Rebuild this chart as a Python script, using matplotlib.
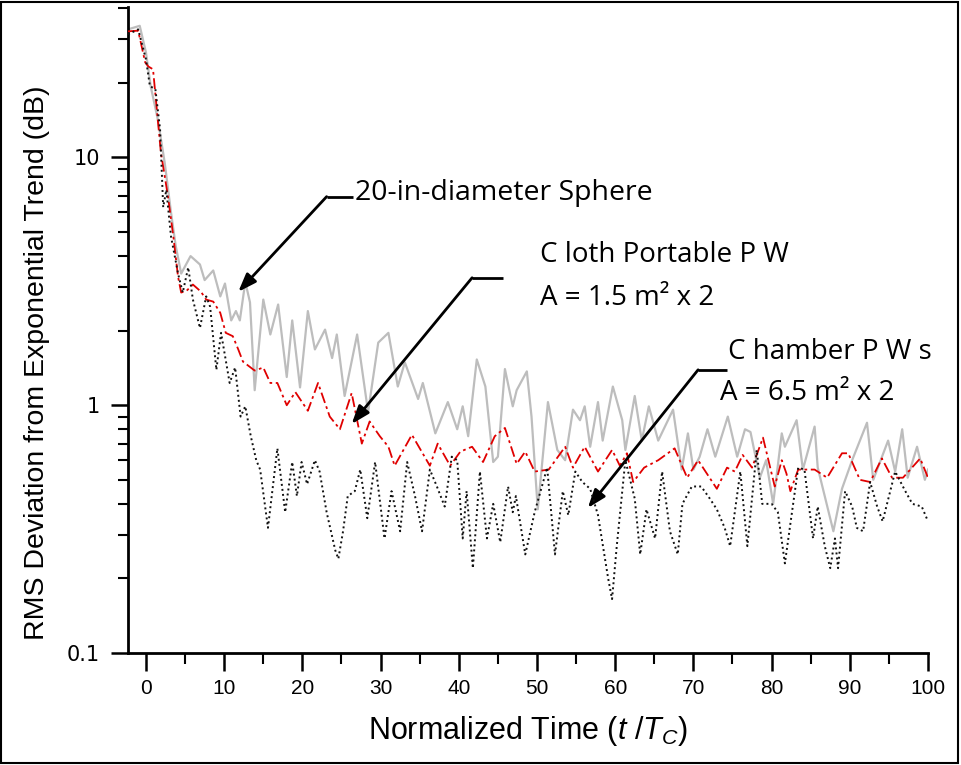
import matplotlib
matplotlib.use("Agg")
import matplotlib.pyplot as plt
from matplotlib import font_manager
from matplotlib.patches import Rectangle
from matplotlib.ticker import LogLocator, FixedLocator, NullFormatter, FixedFormatter, MultipleLocator

names = {f.name for f in font_manager.fontManager.ttflist}
NARROW = "Liberation Sans Narrow" if "Liberation Sans Narrow" in names else "Liberation Sans"
ANNOT = "Open Sans" if "Open Sans" in names else "DejaVu Sans"

# ---------------- data ----------------
sphere_t = [-2.3, -0.8, 0, 0.6, 1.5, 2.4, 3.2, 3.8, 4.5, 5.7, 6.9, 7.5, 8.6, 9.5, 10.1, 10.9, 11.5, 12.0,
            12.7, 13.3, 13.9, 15.0, 15.9, 16.9, 18.0, 18.7, 19.7, 20.7, 21.6, 22.9, 23.8, 24.4, 25.4, 27.0,
            28.4, 29.7, 31.0, 32.2, 33.1, 34.8, 35.4, 37.0, 38.6, 39.8, 40.5, 41.2, 42.3, 43.4, 44.4, 45.0,
            45.9, 46.9, 47.4, 48.7, 49.3, 50.1, 51.4, 52.6, 53.6, 54.6, 55.5, 56.1, 56.8, 57.8, 58.4, 59.7,
            60.9, 61.3, 62.5, 63.4, 64.3, 65.5, 67.4, 68.5, 69.3, 70.0, 70.8, 71.8, 72.8, 74.4, 75.6, 76.6,
            77.3, 78.5, 79.3, 80.2, 81.3, 81.7, 83.2, 84.0, 85.5, 85.9, 87.9, 89.0, 90.3, 92.2, 93.0, 94.9,
            95.8, 96.7, 97.4, 98.6, 99.6, 100]
sphere_v = [32.9, 34, 26.5, 19.4, 14.3, 9.5, 6.0, 4.4, 3.4, 4.0, 3.7, 3.2, 3.5, 2.75, 3.1, 2.2, 2.4, 2.2,
            3.15, 2.6, 1.15, 2.67, 1.93, 2.55, 1.3, 2.2, 1.18, 2.4, 1.68, 2.02, 1.55, 1.93, 1.09, 1.93,
            0.94, 1.79, 1.96, 1.19, 1.49, 1.06, 1.23, 0.77, 1.03, 0.8, 0.99, 0.75, 1.53, 1.19, 0.59, 0.62,
            1.4, 0.99, 1.15, 1.37, 0.9, 0.38, 1.03, 0.66, 0.6, 0.96, 0.87, 0.99, 0.68, 1.03, 0.72, 1.19,
            0.87, 0.66, 1.09, 0.72, 0.99, 0.72, 0.96, 0.55, 0.77, 0.55, 0.62, 0.8, 0.62, 0.9, 0.62, 0.8,
            0.78, 0.51, 0.6, 0.4, 0.77, 0.68, 0.87, 0.55, 0.82, 0.56, 0.31, 0.46, 0.6, 0.85, 0.5, 0.72,
            0.54, 0.8, 0.51, 0.68, 0.5, 0.55]

cloth_t = [-2.3, -1.0, -0.1, 0.3, 0.9, 1.3, 1.9, 2.8, 3.5, 4.1, 4.5, 5.2, 6.0, 7.0, 7.7, 8.6, 9.5, 10.2,
           11.1, 11.8, 12.4, 13.9, 15.0, 15.9, 16.8, 18.0, 19.1, 20.7, 22.0, 23.5, 24.8, 26.3, 27.6, 28.6,
           29.9, 31.0, 31.8, 34.0, 36.3, 37.3, 38.9, 40.2, 41.7, 43.1, 44.6, 45.9, 47.4, 48.5, 49.7, 51.5,
           53.6, 54.6, 56.1, 57.8, 59.6, 60.6, 61.5, 62.3, 63.7, 65.5, 67.6, 69.2, 70.6, 73.0, 74.3, 75.3,
           76.3, 77.5, 78.9, 80.4, 81.3, 81.9, 82.4, 83.4, 85.5, 87.1, 89.0, 89.8, 91.3, 92.6, 94.1, 95.4,
           96.8, 99.0, 100]
cloth_v = [32.3, 32.5, 24.2, 23.3, 22.7, 16.7, 10.5, 7.0, 4.8, 3.3, 2.85, 2.9, 3.07, 2.88, 2.67, 2.62, 2.36, 1.96,
           1.9, 1.68, 1.5, 1.38, 1.42, 1.23, 1.23, 1.0, 1.13, 0.95, 1.23, 0.9, 0.8, 1.12, 0.7, 0.86,
           0.75, 0.68, 0.57, 0.76, 0.57, 0.7, 0.57, 0.65, 0.68, 0.59, 0.75, 0.81, 0.58, 0.65, 0.54, 0.55,
           0.68, 0.56, 0.68, 0.54, 0.66, 0.57, 0.64, 0.49, 0.56, 0.6, 0.67, 0.51, 0.6, 0.46, 0.56, 0.54,
           0.63, 0.56, 0.74, 0.47, 0.6, 0.53, 0.45, 0.55, 0.55, 0.51, 0.64, 0.64, 0.5, 0.49, 0.61, 0.51,
           0.51, 0.61, 0.51]

chamber_t = [-2.3, -1.0, 0.0, 0.5, 1.2, 1.8, 2.2, 2.6, 3.2, 4.1, 4.7, 5.4, 6.0, 6.9, 7.7, 8.2, 9.0, 9.6,
             10.7, 11.4, 12.1, 12.7, 13.4, 14.1, 14.6, 15.6, 16.8, 17.8, 18.7, 19.3, 19.9, 20.6, 21.6, 22.2,
             23.1, 24.2, 24.6, 25.2, 25.8, 26.7, 27.4, 28.3, 29.3, 30.5, 31.4, 32.5, 33.4, 34.4, 35.3, 36.3,
             37.2, 38.2, 39.1, 39.8, 40.5, 41.0, 41.8, 42.7, 43.6, 44.4, 45.3, 46.3, 46.9, 47.3, 48.5, 49.7,
             51.3, 52.3, 53.3, 54.0, 54.9, 55.8, 56.8, 57.8, 59.1, 59.6, 60.2, 61.3, 62.5, 63.2, 64.0, 65.1,
             66.0, 67.0, 68.0, 68.6, 69.8, 71.0, 72.1, 73.0, 74.0, 74.7, 76.0, 76.9, 78.1, 78.8, 80.0, 80.8,
             81.7, 82.5, 83.4, 84.2, 85.3, 85.9, 86.8, 87.5, 88.1, 88.5, 89.4, 90.3, 90.9, 91.7, 92.6, 93.5,
             94.2, 95.8, 97.1, 98.0, 99.2, 100]
chamber_v = [31.4, 32.9, 24.9, 19.4, 18.9, 13.0, 6.3, 7.4, 4.8, 3.4, 2.85, 3.6, 2.67, 2.05, 2.75, 2.5, 1.39, 1.96,
             1.23, 1.42, 0.9, 0.99, 0.75, 0.6, 0.55, 0.32, 0.67, 0.37, 0.59, 0.43, 0.59, 0.48, 0.6, 0.54,
             0.37, 0.26, 0.24, 0.31, 0.43, 0.45, 0.55, 0.35, 0.59, 0.29, 0.45, 0.31, 0.59, 0.43, 0.31, 0.55,
             0.47, 0.39, 0.62, 0.6, 0.29, 0.45, 0.22, 0.54, 0.29, 0.4, 0.28, 0.47, 0.37, 0.43, 0.25, 0.37,
             0.56, 0.25, 0.45, 0.36, 0.54, 0.49, 0.46, 0.36, 0.2, 0.165, 0.27, 0.6, 0.42, 0.25, 0.38, 0.29,
             0.54, 0.31, 0.25, 0.4, 0.47, 0.47, 0.42, 0.38, 0.32, 0.27, 0.54, 0.27, 0.66, 0.4, 0.4, 0.37,
             0.23, 0.35, 0.56, 0.55, 0.29, 0.39, 0.27, 0.22, 0.29, 0.22, 0.45, 0.39, 0.32, 0.31, 0.49, 0.39,
             0.34, 0.54, 0.45, 0.4, 0.39, 0.34]

x_ticks = [0, 10, 20, 30, 40, 50, 60, 70, 80, 90, 100]
y_ticks = [0.1, 1, 10]
y_tick_labels = ["0.1", "1", "10"]

# ---------------- figure ----------------
plt.rcParams["mathtext.fontset"] = "custom"
plt.rcParams["mathtext.rm"] = NARROW
plt.rcParams["mathtext.it"] = NARROW + ":italic"

fig = plt.figure(figsize=(9.61, 7.65), dpi=100)
ax = fig.add_axes([128 / 961, 112 / 765, 800 / 961, 646 / 765])

ax.plot(sphere_t, sphere_v, color="#bdbdbd", lw=1.6, ls="-", zorder=2)
ax.plot(cloth_t, cloth_v, color="#e00000", lw=1.3, ls=(0, (6, 2, 1.5, 2)), zorder=3)
ax.plot(chamber_t, chamber_v, color="#111111", lw=1.4, ls=(0, (1, 1.6)), zorder=4)

ax.set_yscale("log")
ax.set_ylim(0.1, 40.5)
ax.set_xlim(-2.3, 100)

for s in ["top", "right"]:
    ax.spines[s].set_visible(False)
for s in ["left", "bottom"]:
    ax.spines[s].set_linewidth(2.0)

ax.xaxis.set_major_locator(FixedLocator(x_ticks))
ax.xaxis.set_minor_locator(MultipleLocator(5))
ax.yaxis.set_major_locator(FixedLocator(y_ticks))
ax.yaxis.set_major_formatter(FixedFormatter(y_tick_labels))
ax.yaxis.set_minor_locator(LogLocator(base=10, subs=range(2, 10)))
ax.yaxis.set_minor_formatter(NullFormatter())

ax.tick_params(axis="x", which="major", direction="out", length=13, width=1.8, pad=6)
ax.tick_params(axis="x", which="minor", direction="out", length=8, width=1.5)
ax.tick_params(axis="y", which="major", direction="out", length=12, width=1.8, pad=8)
ax.tick_params(axis="y", which="minor", direction="out", length=7, width=1.5)

for lab in ax.get_xticklabels():
    lab.set_fontfamily(NARROW)
    lab.set_fontsize(15)
for lab in ax.get_yticklabels():
    lab.set_fontfamily("DejaVu Sans")
    lab.set_fontsize(15)

ax.set_xlabel(r"Normalized Time ($t$ /$T_C$)", family=NARROW, fontsize=22, labelpad=11)
ax.set_ylabel("RMS Deviation from Exponential Trend (dB)", family="Liberation Sans", fontsize=20.5)
ax.yaxis.set_label_coords(-0.098, 0.45)

# ---------------- annotations ----------------
ak = dict(arrowstyle="-|>,head_length=1.1,head_width=0.4", color="black", lw=2.0, shrinkA=0, shrinkB=0)
fs = 20

ax.plot([23.1, 26.5], [6.95, 6.95], color="black", lw=2.0, solid_capstyle="butt")
ax.annotate("", xy=(11.8, 2.87), xytext=(23.1, 6.95), arrowprops=ak)
ax.text(26.7, 7.2, "20-in-diameter Sphere", family=ANNOT, fontsize=fs + 0.5, va="center", ha="left")

ax.plot([41.7, 45.6], [3.27, 3.27], color="black", lw=2.0, solid_capstyle="butt")
ax.annotate("", xy=(26.3, 0.84), xytext=(41.7, 3.27), arrowprops=ak)
ax.text(50.4, 4.05, "C loth Portable P W", family=ANNOT, fontsize=fs, va="center", ha="left")
ax.text(50.4, 2.72, "A = 1.5 m² x 2", family=ANNOT, fontsize=fs, va="center", ha="left")

ax.plot([70.6, 74.3], [1.39, 1.39], color="black", lw=2.0, solid_capstyle="butt")
ax.annotate("", xy=(56.5, 0.385), xytext=(70.6, 1.39), arrowprops=ak)
ax.text(74.4, 1.64, "C hamber P W s", family=ANNOT, fontsize=fs, va="center", ha="left")
ax.text(73.4, 1.12, "A = 6.5 m² x 2", family=ANNOT, fontsize=fs, va="center", ha="left")

# figure border
fig.patches.append(Rectangle((0.001, 0.002), 0.996, 0.996, transform=fig.transFigure,
                             fill=False, edgecolor="black", lw=1.5))

fig.savefig("out.png", dpi=100)
